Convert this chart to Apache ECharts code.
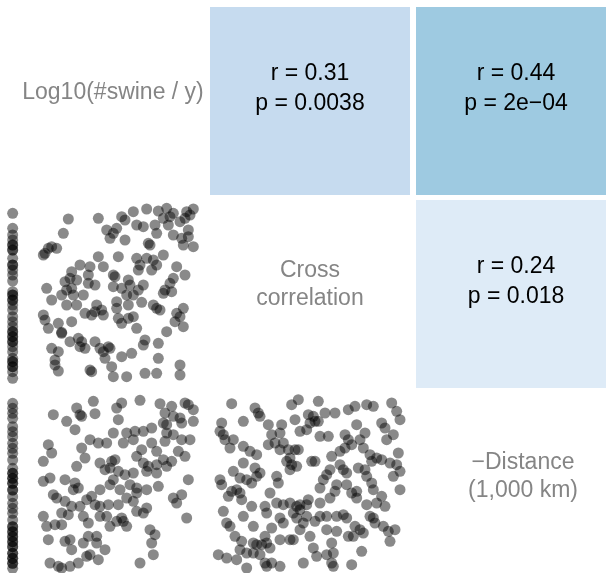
<!DOCTYPE html>
<html><head><meta charset="utf-8">
<script src="https://cdn.jsdelivr.net/npm/echarts/dist/echarts.min.js"></script>
<style>html,body{margin:0;padding:0;background:#fff}#c{width:606px;height:573px}</style>
</head><body><div id="c"></div>
<script>
// ---- data ----
const diagLabels = ['Log10(#swine / y)', 'Cross\ncorrelation', '\u2212Distance\n(1,000 km)'];
const corrCol = [1, 2, 2];
const corrRow = [0, 0, 1];
const corrR = [0.31, 0.44, 0.24];
const corrP = ['0.0038', '2e\u221204', '0.018'];

// strip of points at the minimum of Log10(#swine / y)
const stripA = [54.5,50,48,46.5,45,45,43.5,43.5,41,39,39,37.5,36,34.2,31,30,30,28.5,28.5,27,25.5,23.5,22,20.5,19,19,17.5,17.5,16,16,14.5,13,11,10,10,8.5,8.5,7,5];
const stripB = [50.9,49.4,47.9,46.4,43.9,42.4,40.9,38.9,37.4,35.9,33.9,31.4,29.9,29.9,28.4,28.4,26.9,26.9,24.9,24.9,22.9,20.9,19.4,17.9,15.9,13.9,13.9,12.4,12.4,10.9,10.9,9.4,9.4,7.9,7.9,5.9,5.9,4.4,4.4,2.9,2.9,1.4];
const stripX = 3.8;

// swine (x) vs cross correlation (y), relative units
const swineCross = [[20.5,52.8],[29.5,53],[19,48.5],[40,55],[44,55.8],[47.5,55.2],[50,56],[52,54.5],[56,55],[58,55.8],[57,54],[49,53],[51,53.5],[36.5,53.5],[37.5,52.5],[32,49.5],[35,50],[34,48.5],[33,47],[37.5,46.5],[41,51],[43,50.5],[46.5,51],[50.5,51],[54,52],[55.5,53],[56.5,49.5],[47,48.5],[52,48],[54.5,47],[56.5,47.5],[55,45],[58,44.5],[44.5,45.5],[45,45],[13.5,42.5],[14.5,44],[15.5,44.5],[17,44],[13,42],[29.5,41.5],[35.5,41.5],[41,41],[42,39],[44,41],[46,40.5],[49,42],[41.5,37.5],[45.5,37.5],[47,39],[53,38.5],[55.5,36],[24,39],[27,38.5],[21.5,37],[21,35],[19.5,34],[23,34.5],[26.5,36],[26.5,33.5],[31,38.5],[34,36],[34.5,35.5],[38.5,34.5],[39,33],[36.5,32],[34,32.5],[38,30],[40,30],[41.5,31.5],[43,33],[52,35],[51,33.5],[49.5,31.5],[49,30.5],[51.5,31],[14,32],[18.5,30],[20,31.5],[21.5,32],[22,30],[25,30],[28.5,33],[15.5,28.5],[20,27],[23,27],[29,27],[30.5,25.5],[31,24],[28.5,25],[25.5,24.5],[35,28],[35,26],[38.5,27],[42.5,27.8],[46,27],[48,25.5],[53,24.5],[55,26],[54,23.5],[13,24],[13.5,22.5],[14.5,20],[17.5,21.5],[18.5,18.5],[21.5,22],[27.5,24],[35.5,23],[36.5,21.5],[38.5,23],[40,23.5],[41,20],[43.5,16.5],[47,26],[50,19],[55,20.5],[52.5,22],[23.5,17],[24.5,16],[28.5,16],[24,14.5],[25.5,14],[30,14],[31,13],[32.5,14.5],[33,14],[31.5,11],[15.5,14],[17.5,13],[16.5,10.5],[16.5,9],[17.5,7.2],[27,7.5],[27.5,7],[33.5,8.5],[34,5.5],[38,5.5],[39.5,12.5],[36.5,11.5],[43,15],[47.5,15.5],[47.5,11],[54,9],[54,6],[43.5,6.5],[47,6.5],[21,16],[18.5,18.8]];

// swine (x) vs -distance (y)
const swineDist = [[16,47.5],[23,49.5],[24,47.5],[28,51.5],[28.5,47.8],[35,49.5],[36.5,51],[42,51.8],[48,50.8],[51.5,50],[55.5,51],[56.5,50.5],[58,49],[49.5,48],[49,45],[50,44.5],[52,47],[54,46.5],[54.5,45],[58,45.5],[20,45.5],[22.5,43],[24.5,47],[34,42],[35.5,46],[38,42],[40.5,42.5],[43,42.5],[40,40],[37,39],[45.5,43.5],[50,42],[52,41.5],[49.5,39.5],[54.5,40],[57,40],[14.5,38.5],[15.5,36],[13,33.5],[24.5,37.5],[27,40],[29.5,39],[32,39],[25.5,34.5],[23,32],[30,33],[33.5,33.5],[34.5,34],[33,31.5],[31.5,31],[35.5,30.5],[37.5,29.5],[40,30],[41,35],[42.5,37],[45.5,39],[47,36.5],[49,34],[51.5,33.5],[53.5,36.5],[55.5,35],[43,33],[44.5,32],[44,30.5],[47,30],[47,32.5],[50,32],[13,27.5],[15,28.5],[19.5,28],[22.5,27],[23.5,25.5],[30,25],[33,26.5],[27.5,23],[28.5,20.5],[30,20],[32.5,20.5],[35.5,20.5],[38,22.5],[40,21.5],[41,25.5],[41,24],[44,25],[47.5,26],[16,23.5],[17,22.5],[21.5,20],[18.5,18],[13,17],[14,14],[16.5,14.5],[18.5,14.5],[25,17],[26.5,15],[30,17],[33,14],[37,15.5],[38,14],[41,18.5],[43,18],[44,19.5],[52,22.5],[53,21],[54.5,23.5],[56.5,28],[56,16.5],[14.5,10],[19.5,9.5],[21,10],[21.5,7],[25,9],[26.5,11],[29,11],[26,5],[27,5.5],[29.5,4],[31.5,7],[15,3],[17.5,2],[18.5,1.5],[21,2],[23.5,3],[42,3],[45,13],[46.5,11.5],[45.5,9],[46,5.5],[36.5,16.5],[29,9],[20.5,17.5],[32,17],[35,15.5],[22,25],[34,28],[26,22],[36,25],[39,26.5],[19.5,21.5],[24,20]];

// cross correlation (x) vs -distance (y)
const crossDist = [[9.5,50.8],[16.5,49.5],[17.5,48],[18,47],[27.5,50.5],[29.5,52],[35.5,51.5],[28.5,46],[32.5,47.5],[34,47],[34.5,45.5],[37.5,48],[40.5,48],[35.5,45.5],[33,45],[13,45.5],[6.5,45],[6,42.5],[7,41.5],[7.5,40],[10,40],[9,37.5],[13,38],[15,36.5],[17,35.5],[20.5,44.5],[24.5,44.5],[24,42],[21.5,41.5],[22.5,39],[20.5,38.5],[25,39],[24,37],[26.5,37],[28.5,37],[29.5,37],[27,34.5],[26,33.5],[27.5,32.5],[29,32],[27,31],[30,42.5],[32,43],[36,41],[38.5,41],[44.5,49],[46.5,50],[50,50.5],[52,50],[57.5,51],[59,48.5],[60,46],[54.5,45],[55.5,43.5],[56,40],[58,41.5],[47,44.5],[49.5,42],[43.5,41.5],[44.5,40],[42,36.5],[39.5,35],[43.5,37.5],[45.5,38.5],[48,40],[49,37.5],[51,35.5],[53,34.5],[54.5,34],[57,33],[59,32.5],[59.5,36],[60,30.5],[58,29],[60,25],[51.5,33.5],[47.5,31.5],[49.5,31],[50,29],[51.5,27],[52,25],[54.5,23],[53,21],[55.5,20],[50,20.5],[47,24.5],[47,22.5],[45.5,24],[44,26.5],[44,30],[42,32.5],[43,31],[39,31],[38,29.5],[37,28],[36,25.5],[41,26.5],[40.5,24.5],[39,22.5],[36,21],[33.5,33.5],[34.5,33.5],[32.5,22],[32,20.5],[30,20.5],[29,20],[27,21],[25,20.5],[23,21],[6,28],[6.5,26.5],[8.5,23],[9.5,24.5],[11,25],[12,24],[12.5,22],[10,30.5],[12,28.5],[14,28],[15.5,27],[16.5,31.5],[18,30],[17,29],[23,29],[23.5,27],[21,24],[28,18],[30,19],[32,17],[34.5,15.5],[36,17],[38,17],[41,17],[43,17.5],[44,16.5],[46.5,14],[48,13],[49,12],[51,17],[52,16.5],[52.5,15],[55,14],[56.5,12.5],[58.5,13],[57,9.5],[44.5,11],[46,11],[41,12.5],[38,13],[31,15],[30,13],[28,10],[25,15],[24,16.5],[21.5,13.5],[19.5,11],[20,9],[27,10],[24,10],[21,7.5],[17,8.5],[16,9],[18.5,8.5],[12.5,9.5],[12,7],[14,6],[16,6],[18,5.5],[19.5,3],[21.5,3],[20,2],[11,4],[8,4.5],[5.5,5.5],[14,1.5],[24,2],[31,3],[35,5],[38,5.5],[40,6],[39.5,3],[40,2],[45.5,2.5],[48.5,6.5],[39.5,9],[34,7.5],[33,11],[29,16.5],[7,18.5],[8,15],[9,14],[10.5,11],[16,14],[13,17],[15.5,20],[19.5,20],[20,18],[13,33]];

// ---- build ----
const FONT = 'Liberation Sans, Arial, Helvetica, sans-serif';
const corrData = corrR.map((r, i) => [corrCol[i], corrRow[i], r]);
const diagData = diagLabels.map((t, i) => [i, i]);
const diagNudge = [9, 0, 7];      // horizontal label nudges (px)
const diagLift = [8, 9, 10];      // vertical label lift (px)

const panelA = stripA.map(y => [stripX, y]).concat(swineCross);
const panelB = stripB.map(y => [stripX, y]).concat(swineDist);

const hidden = {show: false};
function vAxis(gi, min, max, inv) {
  return {type: 'value', gridIndex: gi, min: min, max: max, inverse: !!inv, show: false, splitLine: hidden};
}
const dot = {symbolSize: 11, itemStyle: {color: 'rgba(0,0,0,0.58)', borderWidth: 0}, silent: true, clip: false, animation: false};

// matrix grid: one unit = one cell pitch (206 px wide, 193 px tall); the right/bottom parts are cut by the frame
const chart = echarts.init(document.getElementById('c'), null, {renderer: 'canvas'});
chart.setOption({
  animation: false,
  grid: [
    {left: 4, top: 7, width: 602, height: 566},
    {left: 0, top: 195, width: 210, height: 200},
    {left: 0, top: 390, width: 210, height: 183},
    {left: 200, top: 390, width: 220, height: 183}
  ],
  xAxis: [
    vAxis(0, 0, 602 / 206),
    vAxis(1, 0, 63), vAxis(2, 0, 63), vAxis(3, 0, 66)
  ],
  yAxis: [
    vAxis(0, 0, 566 / 193, true),
    vAxis(1, 0, 60), vAxis(2, 0, 54.9), vAxis(3, 0, 54.9)
  ],
  visualMap: {
    type: 'piecewise', show: false, seriesIndex: 0, dimension: 2,
    pieces: [
      {min: 0.2, max: 0.3, color: '#deebf7'},
      {min: 0.3, max: 0.4, color: '#c6dbef'},
      {min: 0.4, max: 0.5, color: '#9ecae1'}
    ]
  },
  series: [
    {
      type: 'custom', xAxisIndex: 0, yAxisIndex: 0, data: corrData, silent: true, clip: false,
      renderItem: function (params, api) {
        const p0 = api.coord([api.value(0), api.value(1)]);
        const s = api.size([1, 1]);
        const w = s[0] - 6, h = s[1] - 5;
        const i = params.dataIndex;
        return {type: 'group', children: [
          {type: 'rect', shape: {x: p0[0], y: p0[1], width: w, height: h}, style: {fill: api.visual('color')}},
          {type: 'text', style: {
            text: 'r = ' + corrR[i].toFixed(2) + '\np = ' + corrP[i],
            x: p0[0] + w / 2, y: p0[1] + h / 2 - 12, align: 'center', verticalAlign: 'middle',
            fontFamily: FONT, fontSize: 23, lineHeight: 30, fill: '#000'}}
        ]};
      }
    },
    {
      type: 'custom', xAxisIndex: 0, yAxisIndex: 0, data: diagData, silent: true, clip: false,
      renderItem: function (params, api) {
        const p0 = api.coord([api.value(0), api.value(1)]);
        const s = api.size([1, 1]);
        const w = s[0] - 6, h = s[1] - 5;
        const i = params.dataIndex;
        return {type: 'text', style: {
          text: diagLabels[i],
          x: p0[0] + w / 2 + diagNudge[i], y: p0[1] + h / 2 - diagLift[i], align: 'center', verticalAlign: 'middle',
          fontFamily: FONT, fontSize: 23, lineHeight: 28, fill: '#858585'}};
      }
    },
    Object.assign({type: 'scatter', xAxisIndex: 1, yAxisIndex: 1, data: panelA}, dot),
    Object.assign({type: 'scatter', xAxisIndex: 2, yAxisIndex: 2, data: panelB}, dot),
    Object.assign({type: 'scatter', xAxisIndex: 3, yAxisIndex: 3, data: crossDist}, dot)
  ]
});
</script></body></html>
